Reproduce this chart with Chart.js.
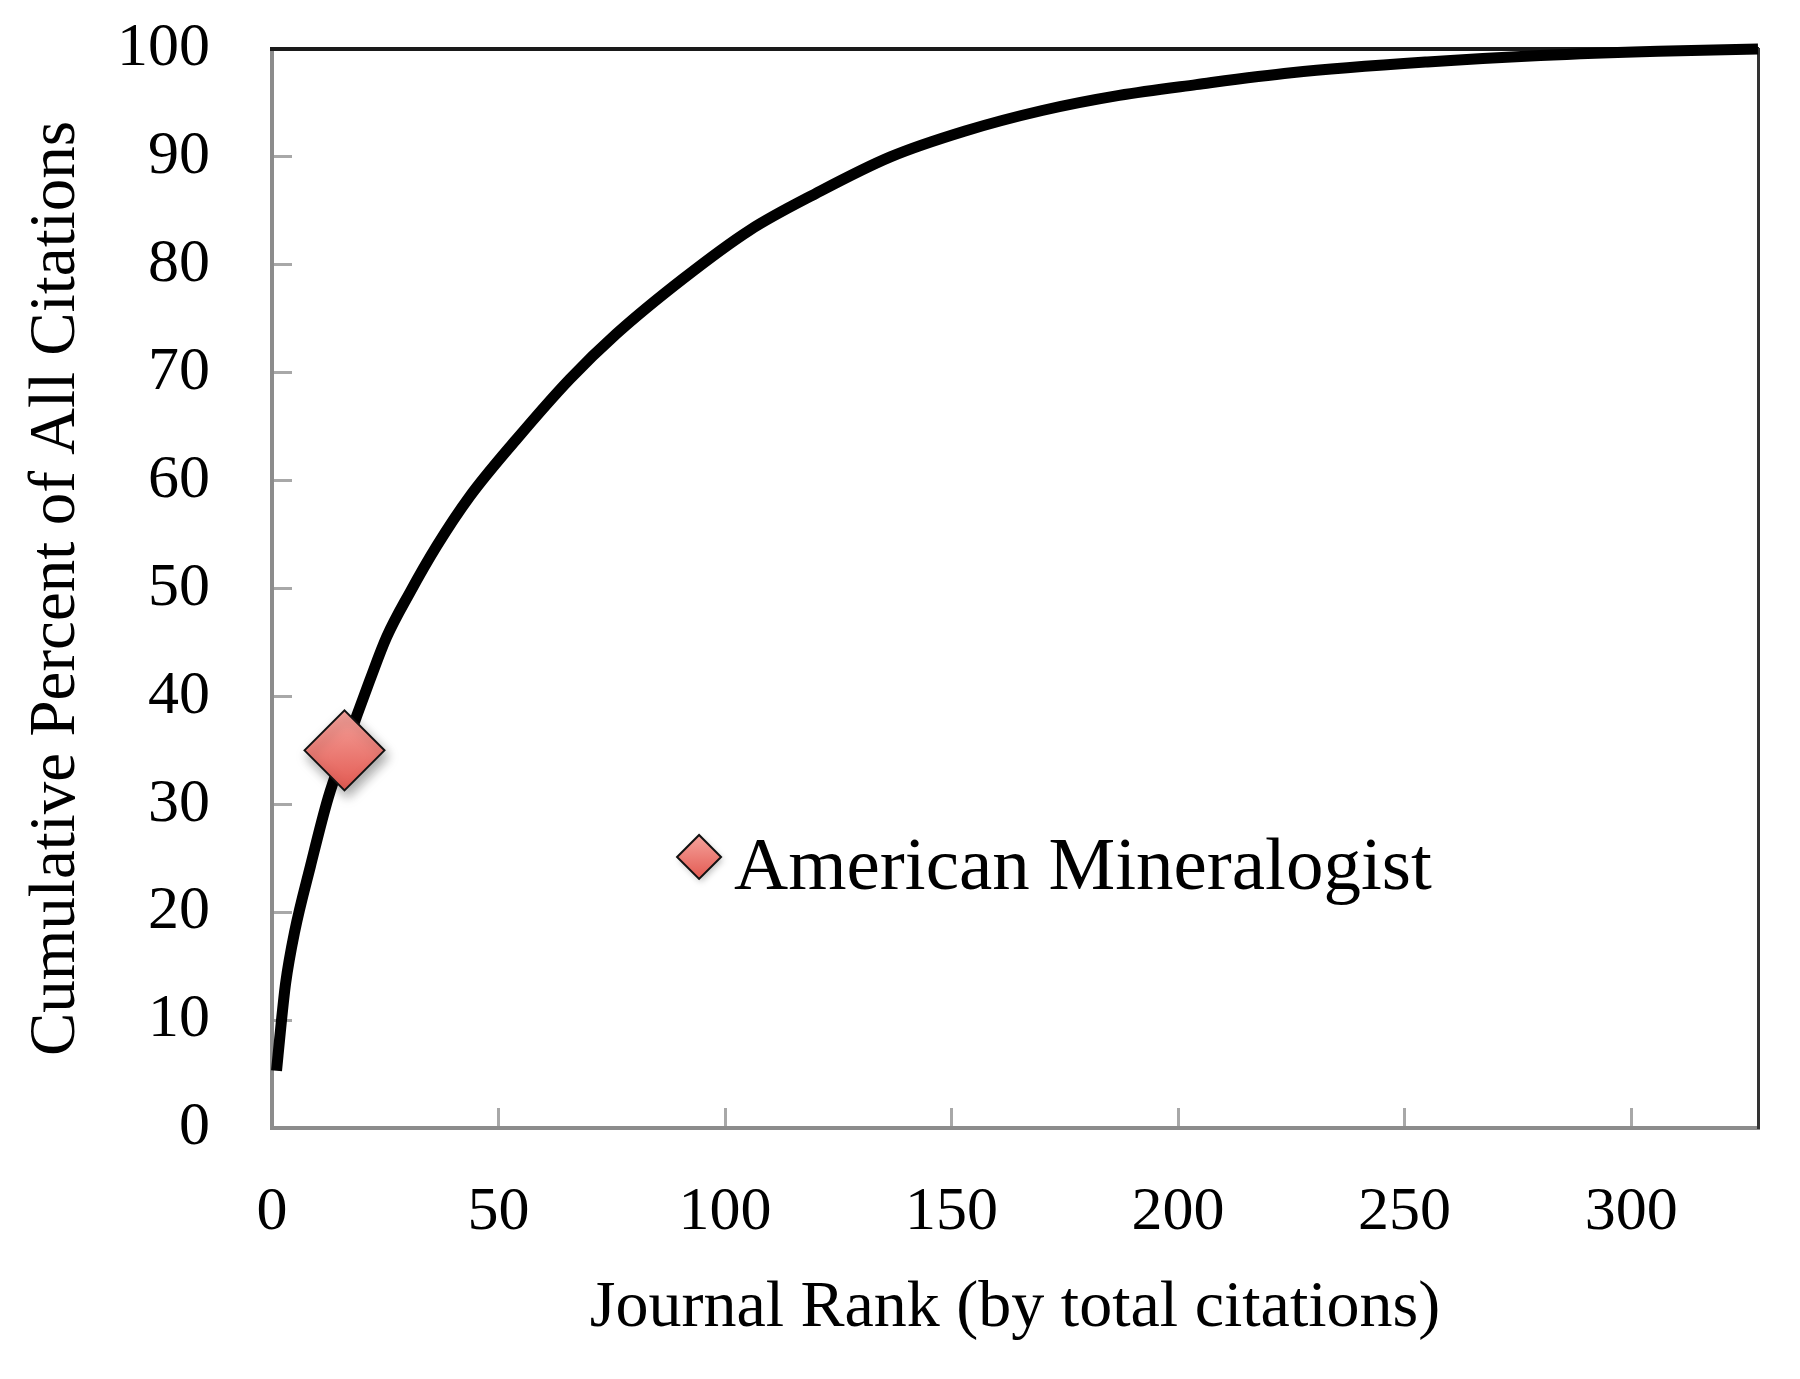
<!DOCTYPE html>
<html>
<head>
<meta charset="utf-8">
<title>Cumulative percent of citations by journal rank</title>
<script src="https://cdn.jsdelivr.net/npm/chart.js@4.4.1/dist/chart.umd.min.js"></script>
<style>
  html, body { margin: 0; padding: 0; background: #fff; }
  #wrap { width: 1800px; height: 1379px; }
</style>
</head>
<body>
<div id="wrap"><canvas id="chart"></canvas></div>
<script>
// values
const ranks = [1, 2, 3, 5, 8.5, 12.4, 16, 18.7, 21.6, 25.3, 30.4, 36.3, 43.6, 53.9, 65.7, 76, 90.7, 105.4, 120, 136.5, 153, 170, 187, 204, 225, 255, 280, 306, 328];
const cumulativePct = [5.3, 9.6, 13.4, 18.2, 24.3, 30.6, 35.0, 38.2, 41.5, 45.5, 49.6, 53.9, 58.5, 63.8, 69.4, 73.6, 78.7, 83.2, 86.6, 90.0, 92.4, 94.3, 95.7, 96.7, 97.8, 98.8, 99.4, 99.8, 100];

const highlightName = "American Mineralogist";
const highlightRank = [16];
const highlightPct = [35];

const xTicks = [0, 50, 100, 150, 200, 250, 300];
const yTicks = [0, 10, 20, 30, 40, 50, 60, 70, 80, 90, 100];

const serif = "'Liberation Serif', 'DejaVu Serif', serif";
Chart.defaults.font.family = serif;
Chart.defaults.color = "#000";

function diamondGradient(ctx, cy, r) {
    const g = ctx.createLinearGradient(0, cy - r, 0, cy + r);
    g.addColorStop(0, "#f5a39c");
    g.addColorStop(1, "#e35a52");
    return g;
}

// soft drop shadow under the highlighted journal marker
const markerShadow = {
    id: "markerShadow",
    beforeDatasetDraw(chart, args) {
        if (args.index !== 1) return;
        const ctx = chart.ctx;
        ctx.save();
        ctx.shadowColor = "rgba(0,0,0,0.35)";
        ctx.shadowBlur = 12;
        ctx.shadowOffsetX = 3;
        ctx.shadowOffsetY = 6;
    },
    afterDatasetDraw(chart, args) {
        if (args.index !== 1) return;
        chart.ctx.restore();
    }
};

// legend entry drawn inside the plot area, like the original
const inlineLegend = {
    id: "inlineLegend",
    afterDatasetsDraw(chart, args, opts) {
        const ds = chart.data.datasets[opts.datasetIndex];
        const {left, top, width, height} = chart.chartArea;
        const ctx = chart.ctx;
        const cx = left + width * opts.fx;
        const cy = top + height * opts.fy;
        const r = opts.radius;

        ctx.save();
        ctx.shadowColor = "rgba(0,0,0,0.25)";
        ctx.shadowBlur = 6;
        ctx.shadowOffsetX = 2;
        ctx.shadowOffsetY = 3;
        ctx.beginPath();
        ctx.moveTo(cx - r, cy);
        ctx.lineTo(cx, cy - r);
        ctx.lineTo(cx + r, cy);
        ctx.lineTo(cx, cy + r);
        ctx.closePath();
        ctx.fillStyle = diamondGradient(ctx, cy, r);
        ctx.fill();
        ctx.shadowColor = "transparent";
        ctx.lineWidth = 2;
        ctx.strokeStyle = "#111";
        ctx.stroke();

        ctx.font = opts.fontSize + "px " + serif;
        ctx.fillStyle = "#000";
        ctx.textAlign = "left";
        ctx.textBaseline = "alphabetic";
        ctx.fillText(ds.label, cx + opts.gap, cy + opts.baseline);
        ctx.restore();
    }
};

// the inward ticks need big label padding; keep it from pushing the plot area in
function fixBox(size, key) {
    return (s) => {
        s[key] = size;
        s.paddingTop = 0;
        s.paddingBottom = 0;
        s.paddingLeft = 0;
        s.paddingRight = 0;
    };
}

const ctx = document.getElementById("chart").getContext("2d");

new Chart(ctx, {
    data: {
        datasets: [
            {
                type: "line",
                label: "All journals",
                data: ranks.map((r, i) => ({x: r, y: cumulativePct[i]})),
                borderColor: "#000",
                borderWidth: 11,
                pointRadius: 0,
                cubicInterpolationMode: "monotone",
                clip: false,
                order: 1,
                xAxisID: "x",
                yAxisID: "y"
            },
            {
                type: "scatter",
                label: highlightName,
                data: highlightRank.map((r, i) => ({x: r, y: highlightPct[i]})),
                pointStyle: "rectRot",
                pointRadius: 40,
                pointHoverRadius: 40,
                borderColor: "#111",
                borderWidth: 2,
                backgroundColor: (c) => {
                    const chart = c.chart;
                    if (!chart.chartArea || !c.raw) return "#ee8078";
                    const cy = chart.scales.y.getPixelForValue(c.raw.y);
                    return diamondGradient(chart.ctx, cy, 40);
                },
                clip: false,
                order: 0,
                xAxisID: "x",
                yAxisID: "y"
            }
        ]
    },
    options: {
        responsive: true,
        maintainAspectRatio: false,
        devicePixelRatio: 1,
        animation: false,
        layout: {
            padding: {top: 49, right: 39, left: 0, bottom: 0}
        },
        plugins: {
            legend: {display: false},
            tooltip: {enabled: false},
            inlineLegend: {
                datasetIndex: 1,
                fx: 0.2874,
                fy: 0.7488,
                radius: 22,
                gap: 35,
                baseline: 32,
                fontSize: 75
            }
        },
        scales: {
            x: {
                type: "linear",
                position: "bottom",
                min: 0,
                max: 328,
                afterBuildTicks: (s) => { s.ticks = xTicks.map(v => ({value: v})); },
                afterFit: fixBox(251, "height"),
                ticks: {
                    padding: 68,
                    color: "#000",
                    font: {size: 62}
                },
                grid: {
                    drawOnChartArea: false,
                    tickLength: -20,
                    color: "#a8a8a8",
                    lineWidth: 3
                },
                border: {color: "#8c8c8c", width: 4},
                title: {
                    display: true,
                    text: "Journal Rank (by total citations)",
                    color: "#000",
                    font: {size: 66},
                    padding: {top: 0, bottom: 31}
                }
            },
            y: {
                type: "linear",
                position: "left",
                min: 0,
                max: 100,
                afterBuildTicks: (s) => { s.ticks = yTicks.map(v => ({value: v})); },
                afterFit: fixBox(272, "width"),
                ticks: {
                    padding: 82,
                    color: "#000",
                    font: {size: 62}
                },
                grid: {
                    drawOnChartArea: false,
                    tickLength: -20,
                    color: "#a8a8a8",
                    lineWidth: 3
                },
                border: {color: "#8c8c8c", width: 4},
                title: {
                    display: true,
                    text: "Cumulative Percent of All Citations",
                    color: "#000",
                    font: {size: 65},
                    padding: {top: 18, bottom: 0}
                }
            },
            xTop: {
                type: "linear",
                position: "top",
                afterFit: fixBox(0, "height"),
                ticks: {display: false},
                grid: {display: false},
                border: {color: "#1a1a1a", width: 4}
            },
            yRight: {
                type: "linear",
                position: "right",
                afterFit: fixBox(0, "width"),
                ticks: {display: false},
                grid: {display: false},
                border: {color: "#333", width: 3}
            }
        }
    },
    plugins: [markerShadow, inlineLegend]
});
</script>
</body>
</html>
